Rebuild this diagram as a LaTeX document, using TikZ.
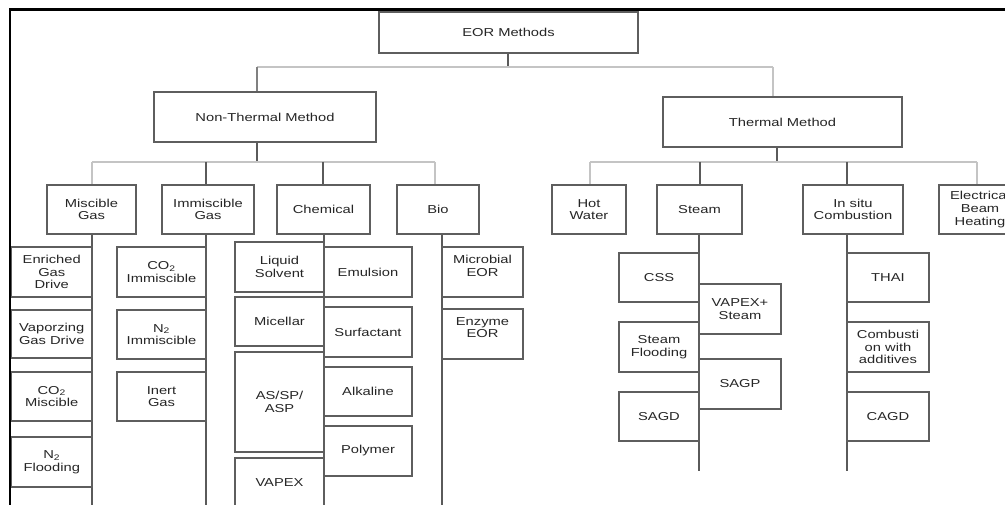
\documentclass[tikz,border=0pt]{standalone}
\usepackage{fontspec}
\setmainfont{Liberation Sans}[FakeStretch=1.28]
\definecolor{boxgray}{HTML}{5E5E5E}
\definecolor{txtgray}{HTML}{262626}
\definecolor{darkline}{HTML}{5A5A5A}
\definecolor{lightline}{HTML}{C4C4C4}
\newcommand\boxat[6]{\node[bx, minimum width={(#4-#2)*1pt}, minimum height={(#5-#3)*1pt}] (#1) at ({(#2+#4)/2},{(#3+#5)/2}) {#6};}
\begin{document}
\begin{tikzpicture}[x=1pt,y=-1pt,
  bx/.style={draw=boxgray, line width=1.2pt, inner sep=0pt, align=center, text=txtgray,
    font=\fontsize{11.5}{12.7}\selectfont},
  dk/.style={draw=darkline, line width=1.4pt},
  lt/.style={draw=lightline, line width=1.4pt},
  md/.style={draw=gray, line width=1.4pt},
  frame/.style={draw=black, line width=2.2pt}]
\useasboundingbox (0,0) rectangle (1005,505);
\clip (0,0) rectangle (1005,505);
\fill[white] (0,0) rectangle (1005,505);
% frame
\coordinate (fTL) at (10,9.5);
\coordinate (fTR) at (1010,9.5);
\coordinate (fBL) at (10,510);
\draw[frame] (fBL) -- (fTL) -- (fTR);
% top levels
\boxat{eor}{379}{12}{638}{53}{EOR Methods}
\boxat{nt}{154}{92}{376}{142}{Non-Thermal Method}
\boxat{th}{663}{97}{902}{147}{Thermal Method}
% level 2
\boxat{misc}{47}{185}{136}{234}{Miscible\\Gas}
\boxat{immi}{162}{185}{254}{234}{Immiscible\\Gas}
\boxat{chem}{277}{185}{370}{234}{Chemical}
\boxat{bio}{397}{185}{479}{234}{Bio}
\boxat{hot}{552}{185}{626}{234}{Hot\\Water}
\boxat{steam}{657}{185}{742}{234}{Steam}
\boxat{insitu}{803}{185}{903}{234}{In situ\\Combustion}
\boxat{elec}{939}{185}{1021}{234}{Electrical\\Beam\\Heating}
% connectors level 0-1
\coordinate (j0) at (508,67);
\coordinate (j0L) at (257,67);
\coordinate (j0R) at (773,67);
\draw[dk] (eor.south -| j0) -- (j0);
\draw[lt] (j0L) -- (j0R);
\draw[md] (j0L) -- (j0L |- nt.north);
\draw[lt] (j0R) -- (j0R |- th.north);
% connectors level 1-2 (left)
\coordinate (j1) at (257,162);
\coordinate (j1a) at (92,162);
\coordinate (j1b) at (206,162);
\coordinate (j1c) at (323,162);
\coordinate (j1d) at (435,162);
\draw[dk] (nt.south -| j1) -- (j1);
\draw[lt] (j1a) -- (j1d);
\draw[lt] (j1a) -- (j1a |- misc.north);
\draw[dk] (j1b) -- (j1b |- immi.north);
\draw[dk] (j1c) -- (j1c |- chem.north);
\draw[lt] (j1d) -- (j1d |- bio.north);
% connectors level 1-2 (right)
\coordinate (j2) at (777,162);
\coordinate (j2a) at (590,162);
\coordinate (j2b) at (700,162);
\coordinate (j2c) at (847,162);
\coordinate (j2d) at (977,162);
\draw[dk] (th.south -| j2) -- (j2);
\draw[lt] (j2a) -- (j2d);
\draw[lt] (j2a) -- (j2a |- hot.north);
\draw[dk] (j2b) -- (j2b |- steam.north);
\draw[dk] (j2c) -- (j2c |- insitu.north);
\draw[lt] (j2d) -- (j2d |- elec.north);
% trunks
\coordinate (tA) at (92,510);
\coordinate (tB) at (206,510);
\coordinate (tC) at (324,510);
\coordinate (tD) at (442,510);
\coordinate (tE) at (699,471);
\coordinate (tF) at (847,471);
\draw[dk] (misc.south -| tA) -- (tA);
\draw[dk] (immi.south -| tB) -- (tB);
\draw[dk] (chem.south -| tC) -- (tC);
\draw[dk] (bio.south -| tD) -- (tD);
\draw[dk] (steam.south -| tE) -- (tE);
\draw[dk] (insitu.south -| tF) -- (tF);
% Miscible gas children
\boxat{egd}{11.5}{247}{92}{297}{Enriched\\Gas\\Drive}
\boxat{vgd}{11.5}{310}{92}{358}{Vaporzing\\Gas Drive}
\boxat{co2m}{11.5}{372}{92}{421}{CO\textsubscript{2}\\Miscible}
\boxat{n2f}{11.5}{437}{92}{487}{N\textsubscript{2}\\Flooding}
% Immiscible gas children
\boxat{co2i}{117}{247}{206}{297}{CO\textsubscript{2}\\Immiscible}
\boxat{n2i}{117}{310}{206}{359}{N\textsubscript{2}\\Immiscible}
\boxat{inert}{117}{372}{206}{421}{Inert\\Gas}
% Chemical children
\boxat{liq}{235}{242}{324}{292}{Liquid\\Solvent}
\boxat{mic}{235}{297}{324}{346}{Micellar}
\boxat{asp}{235}{352}{324}{452}{AS/SP/\\ASP}
\boxat{vapex}{235}{458}{324}{508}{VAPEX}
\boxat{emu}{324}{247}{412}{297}{Emulsion}
\boxat{surf}{324}{307}{412}{357}{Surfactant}
\boxat{alk}{324}{367}{412}{416}{Alkaline}
\boxat{poly}{324}{426}{412}{476}{Polymer}
% Bio children
\boxat{micro}{442}{247}{523}{297}{Microbial\\EOR\\\mbox{}}
\boxat{enz}{442}{309}{523}{359}{Enzyme\\EOR\\\mbox{}}
% Steam children
\boxat{css}{619}{253}{699}{302}{CSS}
\boxat{sfl}{619}{322}{699}{372}{Steam\\Flooding}
\boxat{sagd}{619}{392}{699}{441}{SAGD}
\boxat{vs}{699}{284}{781}{334}{VAPEX+\\Steam}
\boxat{sagp}{699}{359}{781}{409}{SAGP}
% In situ children
\boxat{thai}{847}{253}{929}{302}{THAI}
\boxat{comb}{847}{322}{929}{372}{Combusti\\on with\\additives}
\boxat{cagd}{847}{392}{929}{441}{CAGD}
\end{tikzpicture}
\end{document}
